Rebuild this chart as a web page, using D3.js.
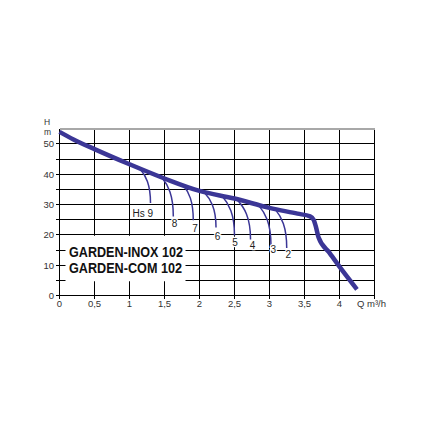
<!DOCTYPE html>
<html><head><meta charset="utf-8">
<script src="https://cdn.jsdelivr.net/npm/d3@7"></script>
<style>html,body{margin:0;padding:0;background:#fff;} svg{display:block;}</style>
</head><body>
<svg id="c" width="423" height="423"></svg>
<script>
// ---- data ----
const mainQ = [0, 0.2, 0.5, 1.0, 1.5, 2.0, 2.5, 3.0, 3.4, 3.58, 3.63, 3.665, 3.70, 3.86, 4.0, 4.25];
const mainH = [54, 51.5, 48.3, 43.3, 38.6, 34.5, 32.0, 28.9, 27.0, 26.1, 25.0, 22.5, 19.2, 14.0, 9.5, 2.0];

const hsLabels = ["Hs 9", "8", "7", "6", "5", "4", "3", "2"];
const hsStartQ = [1.15, 1.46, 1.77, 2.06, 2.32, 2.53, 2.84, 3.08];
const hsStartH = [41.8, 39.0, 36.4, 34.2, 32.9, 31.8, 29.9, 28.5];
const hsEndQ   = [1.30, 1.626, 1.911, 2.236, 2.50, 2.729, 3.021, 3.246];
const hsEndH   = [30.5, 26.1, 24.8, 22.4, 19.8, 18.5, 16.5, 15.7];
const hsLabelQ = [1.19, 1.643, 1.936, 2.257, 2.507, 2.757, 3.054, 3.27];
const hsLabelH = [27.1, 23.8, 22.0, 19.6, 17.6, 16.5, 15.2, 13.4];

const xGrid = [0, 0.5, 1, 1.5, 2, 2.5, 3, 3.5, 4, 4.5];
const xTickVals = [0, 0.5, 1, 1.5, 2, 2.5, 3, 3.5, 4];
const xTickLabels = ["0", "0,5", "1", "1,5", "2", "2,5", "3", "3,5", "4"];
const yGrid = [0, 5, 10, 15, 20, 25, 30, 35, 40, 45, 50];
const yTickVals = [0, 10, 20, 30, 40, 50];
const yTickLabels = ["0", "10", "20", "30", "40", "50"];
const yMax = 55;
const titleLines = ["GARDEN-INOX 102", "GARDEN-COM 102"];
const xUnit = "Q m\u00B3/h";
const yUnit = ["H", "m"];

// ---- drawing ----
const svg = d3.select("#c");
const x = d3.scaleLinear().domain([0, 4.5]).range([59.5, 374.5]);
const y = d3.scaleLinear().domain([0, yMax]).range([295.5, 128.8]);
const blue = "#3b3696";
const font = "'Liberation Sans', Arial, Helvetica, sans-serif";

const grid = svg.append("g").attr("shape-rendering", "crispEdges");
grid.selectAll("line.v").data(xGrid).join("line")
  .attr("x1", d => x(d)).attr("x2", d => x(d))
  .attr("y1", y(0) + 3.5).attr("y2", y(yMax))
  .attr("stroke", "#000").attr("stroke-width", 1);
grid.selectAll("line.h").data(yGrid).join("line")
  .attr("x1", x(0) - 4).attr("x2", x(4.5))
  .attr("y1", d => y(d)).attr("y2", d => y(d))
  .attr("stroke", "#000").attr("stroke-width", 1);
grid.append("line")
  .attr("x1", x(0)).attr("x2", x(4.5) + 0.5)
  .attr("y1", y(yMax)).attr("y2", y(yMax))
  .attr("stroke", "#a8a8a8").attr("stroke-width", 1.6);

// white box behind model names
svg.append("rect")
  .attr("x", x(0) + 6).attr("y", y(19.7))
  .attr("width", x(1.8) - x(0) - 6).attr("height", y(4.7) - y(19.7))
  .attr("fill", "#fff");

// axis labels
svg.append("g").selectAll("text").data(yTickVals).join("text")
  .attr("x", 54).attr("y", d => y(d)).attr("dy", "0.35em")
  .attr("text-anchor", "end").attr("font-family", font).attr("font-size", 9.5)
  .attr("fill", "#333").text((d, i) => yTickLabels[i]);
svg.append("g").selectAll("text").data(xTickVals).join("text")
  .attr("x", d => x(d)).attr("y", 307)
  .attr("text-anchor", "middle").attr("font-family", font).attr("font-size", 9.5)
  .attr("fill", "#333").text((d, i) => xTickLabels[i]);
svg.append("text").attr("x", 357).attr("y", 307)
  .attr("font-family", font).attr("font-size", 9.5).attr("fill", "#333").text(xUnit);
svg.append("g").selectAll("text").data(yUnit).join("text")
  .attr("x", 44).attr("y", (d, i) => 124.5 + i * 10)
  .attr("font-family", font).attr("font-size", 8.5).attr("fill", "#333").text(d => d);

// model names
svg.append("g").selectAll("text").data(titleLines).join("text")
  .attr("x", 69).attr("y", (d, i) => 256.5 + i * 16.7)
  .attr("font-family", font).attr("font-weight", "bold").attr("font-size", 15.5)
  .attr("textLength", (d, i) => i === 0 ? 114 : 113).attr("lengthAdjust", "spacingAndGlyphs")
  .attr("fill", "#111").text(d => d);

// Hs curves
const hsData = hsLabels.map((l, i) => ({
  label: l, sq: hsStartQ[i], sh: hsStartH[i], eq: hsEndQ[i], eh: hsEndH[i],
  lq: hsLabelQ[i], lh: hsLabelH[i]
}));
svg.append("g").selectAll("path").data(hsData).join("path")
  .attr("d", d => {
    const p = d3.path();
    const sx = x(d.sq), sy = y(d.sh), ex = x(d.eq), ey = y(d.eh);
    p.moveTo(sx, sy);
    p.bezierCurveTo(sx + (ex - sx) * 0.55, sy + (ey - sy) * 0.2,
                    ex, sy + (ey - sy) * 0.45, ex, ey);
    return p.toString();
  })
  .attr("fill", "none").attr("stroke", blue).attr("stroke-width", 1.5);
svg.append("g").selectAll("text").data(hsData).join("text")
  .attr("x", d => x(d.lq)).attr("y", d => y(d.lh)).attr("dy", "0.35em")
  .attr("text-anchor", "middle").attr("font-family", font).attr("font-size", 10)
  .attr("fill", "#222").attr("stroke", "#fff").attr("stroke-width", 2.5)
  .attr("paint-order", "stroke").text(d => d.label);

// main curve
const mainData = mainQ.map((q, i) => [q, mainH[i]]);
svg.append("path").datum(mainData)
  .attr("d", d3.line().x(d => x(d[0])).y(d => y(d[1])).curve(d3.curveMonotoneX))
  .attr("fill", "none").attr("stroke", blue).attr("stroke-width", 4.5)
  .attr("stroke-linejoin", "round");
</script>
</body></html>
